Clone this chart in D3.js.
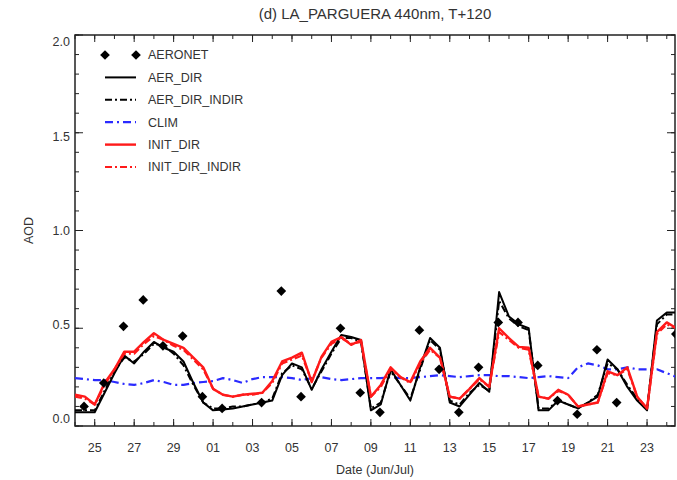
<!DOCTYPE html>
<html><head><meta charset="utf-8">
<script src="https://cdn.jsdelivr.net/npm/d3@7"></script>
<style>
body{margin:0;background:#fff}
svg{display:block}
text{font-family:"Liberation Sans",Arial,Helvetica,sans-serif;fill:#333}
</style>
</head><body>
<svg id="chart" width="677" height="480"></svg>
<script>
// ---------------- DATA ----------------
const title = "(d) LA_PARGUERA 440nm, T+120";
const xLabel = "Date (Jun/Jul)";
const yLabel = "AOD";
const seriesNames = ["AERONET","AER_DIR","AER_DIR_INDIR","CLIM","INIT_DIR","INIT_DIR_INDIR"];
const yTickLabels = ["0.0","0.5","1.0","1.5","2.0"];
const xTickLabels = ["25","27","29","01","03","05","07","09","11","13","15","17","19","21","23"];

// model output every 12 h starting 24 Jun 00Z
const modelStart = "2012-06-24T00:00Z";
const modelStepHours = 12;
const aerDir = [0.07,0.07,0.07,0.17,0.27,0.36,0.32,0.38,0.43,0.40,0.38,0.33,0.22,0.12,0.08,0.085,0.09,0.10,0.11,0.12,0.13,0.26,0.32,0.30,0.185,0.29,0.38,0.465,0.455,0.44,0.08,0.11,0.29,0.21,0.13,0.30,0.45,0.40,0.12,0.10,0.16,0.22,0.175,0.685,0.56,0.52,0.50,0.08,0.08,0.13,0.11,0.09,0.12,0.15,0.34,0.29,0.20,0.13,0.08,0.54,0.58,0.58];
const aerDirIndir = [0.08,0.08,0.08,0.18,0.28,0.35,0.33,0.37,0.42,0.41,0.37,0.31,0.21,0.12,0.09,0.09,0.10,0.10,0.11,0.12,0.14,0.27,0.31,0.29,0.19,0.28,0.37,0.45,0.45,0.43,0.09,0.12,0.28,0.21,0.14,0.29,0.44,0.39,0.13,0.11,0.17,0.21,0.18,0.64,0.55,0.51,0.49,0.09,0.09,0.13,0.11,0.09,0.12,0.16,0.32,0.29,0.21,0.14,0.09,0.52,0.57,0.57];
const clim = [0.245,0.24,0.235,0.235,0.225,0.215,0.21,0.22,0.235,0.225,0.21,0.21,0.22,0.225,0.23,0.245,0.235,0.22,0.24,0.25,0.25,0.25,0.245,0.235,0.245,0.25,0.24,0.235,0.24,0.245,0.245,0.245,0.25,0.245,0.245,0.25,0.255,0.26,0.255,0.25,0.255,0.26,0.26,0.255,0.255,0.25,0.245,0.25,0.255,0.25,0.245,0.30,0.32,0.31,0.29,0.29,0.30,0.29,0.29,0.29,0.27,0.25];
const initDir = [0.16,0.15,0.11,0.22,0.29,0.38,0.38,0.43,0.475,0.44,0.42,0.40,0.35,0.30,0.19,0.16,0.15,0.16,0.165,0.17,0.23,0.33,0.35,0.375,0.225,0.355,0.43,0.455,0.415,0.44,0.15,0.21,0.30,0.25,0.225,0.33,0.40,0.35,0.15,0.14,0.19,0.245,0.20,0.50,0.45,0.405,0.40,0.15,0.14,0.185,0.16,0.10,0.11,0.12,0.28,0.26,0.30,0.15,0.09,0.48,0.53,0.50];
const initDirIndir = [0.15,0.14,0.11,0.21,0.29,0.37,0.37,0.42,0.46,0.44,0.41,0.39,0.34,0.29,0.19,0.16,0.15,0.16,0.16,0.17,0.22,0.32,0.34,0.36,0.23,0.35,0.42,0.45,0.42,0.43,0.15,0.20,0.29,0.25,0.22,0.32,0.39,0.35,0.15,0.14,0.19,0.24,0.20,0.48,0.44,0.40,0.39,0.15,0.14,0.18,0.16,0.10,0.11,0.12,0.27,0.26,0.29,0.15,0.09,0.47,0.52,0.50];

// AERONET daily observations (day of record, AOD)
const aeronetDates = ["2012-06-24","2012-06-25","2012-06-26","2012-06-27","2012-06-28","2012-06-29","2012-06-30","2012-07-01","2012-07-03","2012-07-04","2012-07-05","2012-07-07","2012-07-08","2012-07-09","2012-07-11","2012-07-12","2012-07-13","2012-07-14","2012-07-15","2012-07-16","2012-07-17","2012-07-18","2012-07-19","2012-07-20","2012-07-21","2012-07-24"];
const aeronetValues = [0.10,0.22,0.51,0.645,0.41,0.46,0.15,0.09,0.12,0.69,0.15,0.50,0.17,0.07,0.49,0.29,0.07,0.30,0.53,0.53,0.31,0.13,0.06,0.39,0.12,0.47];

// ---------------- CHART ----------------
const svg = d3.select("#chart");
const L = 75, R = 675, T = 35, B = 426;

const x = d3.scaleUtc()
  .domain([new Date("2012-06-24T00:00Z"), new Date("2012-07-24T10:00Z")])
  .range([L, R]);
const y = d3.scaleLinear().domain([0, 2]).range([B, T]);

const t0 = new Date(modelStart).getTime();
const modelTime = i => new Date(t0 + i * modelStepHours * 3600e3);
const obsTime = s => new Date(s + "T11:00Z");

svg.append("defs").append("clipPath").attr("id","clip")
  .append("rect").attr("x",L).attr("y",T).attr("width",R-L).attr("height",B-T);

const majorX = d3.utcDay.range(new Date("2012-06-25T00:00Z"), x.domain()[1], 2);
const minorX = d3.utcDay.range(new Date("2012-06-24T00:00Z"), x.domain()[1], 1);
const majorY = d3.range(0, 2.01, 0.5);
const minorY = d3.range(0, 2.001, 0.1);

const axisCol = "#222";
const g = svg.append("g");
function xTicks(yPos, dir){
  g.selectAll(null).data(minorX).join("line")
    .attr("x1",d=>x(d)).attr("x2",d=>x(d)).attr("y1",yPos).attr("y2",yPos+dir*4)
    .attr("stroke",axisCol).attr("stroke-width",1);
  g.selectAll(null).data(majorX).join("line")
    .attr("x1",d=>x(d)).attr("x2",d=>x(d)).attr("y1",yPos).attr("y2",yPos+dir*7)
    .attr("stroke",axisCol).attr("stroke-width",1);
}
function yTicks(xPos, dir){
  g.selectAll(null).data(minorY).join("line")
    .attr("y1",d=>y(d)).attr("y2",d=>y(d)).attr("x1",xPos).attr("x2",xPos+dir*4)
    .attr("stroke",axisCol).attr("stroke-width",1);
  g.selectAll(null).data(majorY).join("line")
    .attr("y1",d=>y(d)).attr("y2",d=>y(d)).attr("x1",xPos).attr("x2",xPos+dir*8)
    .attr("stroke",axisCol).attr("stroke-width",1);
}
xTicks(B,-1); xTicks(T,1); yTicks(L,1); yTicks(R,-1);
g.append("rect").attr("x",L).attr("y",T).attr("width",R-L).attr("height",B-T)
  .attr("fill","none").attr("stroke",axisCol).attr("stroke-width",1.5);

const yLab = d3.scaleLinear().domain([0,2]).range([B-7, T+7]);
g.selectAll(null).data(majorY).join("text")
  .attr("x", L-5).attr("y", d=>yLab(d)).attr("dy","0.35em")
  .attr("text-anchor","end").attr("font-size",12.5)
  .text((d,i)=>yTickLabels[i]);
g.selectAll(null).data(majorX).join("text")
  .attr("x", d=>x(d)).attr("y", B+26).attr("text-anchor","middle").attr("font-size",12.5)
  .text((d,i)=>xTickLabels[i]);

svg.append("text").attr("x",375).attr("y",19).attr("text-anchor","middle")
  .attr("font-size",15).text(title);
svg.append("text").attr("x",375).attr("y",474).attr("text-anchor","middle")
  .attr("font-size",12.5).text(xLabel);
svg.append("text").attr("transform","translate(33,"+((T+B)/2)+") rotate(-90)")
  .attr("text-anchor","middle").attr("font-size",12.5).text(yLabel);

const styles = {
  AER_DIR:       {color:"#000000", dash:null,        width:2,   data:aerDir},
  AER_DIR_INDIR: {color:"#000000", dash:"7,3,2,3",   width:2,   data:aerDirIndir},
  CLIM:          {color:"#2a2aff", dash:"8,4,2,4",   width:2.2, data:clim},
  INIT_DIR:      {color:"#ff1a1a", dash:null,        width:2.4, data:initDir},
  INIT_DIR_INDIR:{color:"#ff1a1a", dash:"7,3,2,3",   width:2.2, data:initDirIndir}
};
const line = d3.line().x((d,i)=>x(modelTime(i))).y(d=>y(d));
const plot = svg.append("g").attr("clip-path","url(#clip)");
["CLIM","AER_DIR_INDIR","AER_DIR","INIT_DIR_INDIR","INIT_DIR"].forEach(k=>{
  const s = styles[k];
  plot.append("path").datum(s.data).attr("d",line).attr("fill","none")
    .attr("stroke",s.color).attr("stroke-width",s.width)
    .attr("stroke-dasharray",s.dash).attr("stroke-linejoin","round");
});

const diamond = d3.symbol().type(d3.symbolDiamond2).size(60);
plot.selectAll(null).data(aeronetDates).join("path")
  .attr("d",diamond)
  .attr("transform",(d,i)=>`translate(${x(obsTime(d))},${y(aeronetValues[i])})`)
  .attr("fill","#000");

const lg = svg.append("g");
const lx1 = 105, lx2 = 136, ly0 = 55, ldy = 22.4;
seriesNames.forEach((name,i)=>{
  const yy = ly0 + i*ldy;
  if(name==="AERONET"){
    [lx1,lx2].forEach(xx=>lg.append("path").attr("d",diamond)
      .attr("transform",`translate(${xx},${yy})`).attr("fill","#000"));
  } else {
    const s = styles[name];
    lg.append("line").attr("x1",lx1).attr("x2",lx2).attr("y1",yy).attr("y2",yy)
      .attr("stroke",s.color).attr("stroke-width",s.width).attr("stroke-dasharray",s.dash);
  }
  lg.append("text").attr("x",148).attr("y",yy).attr("dy","0.35em")
    .attr("font-size",12.5).text(name);
});
</script>
</body></html>
